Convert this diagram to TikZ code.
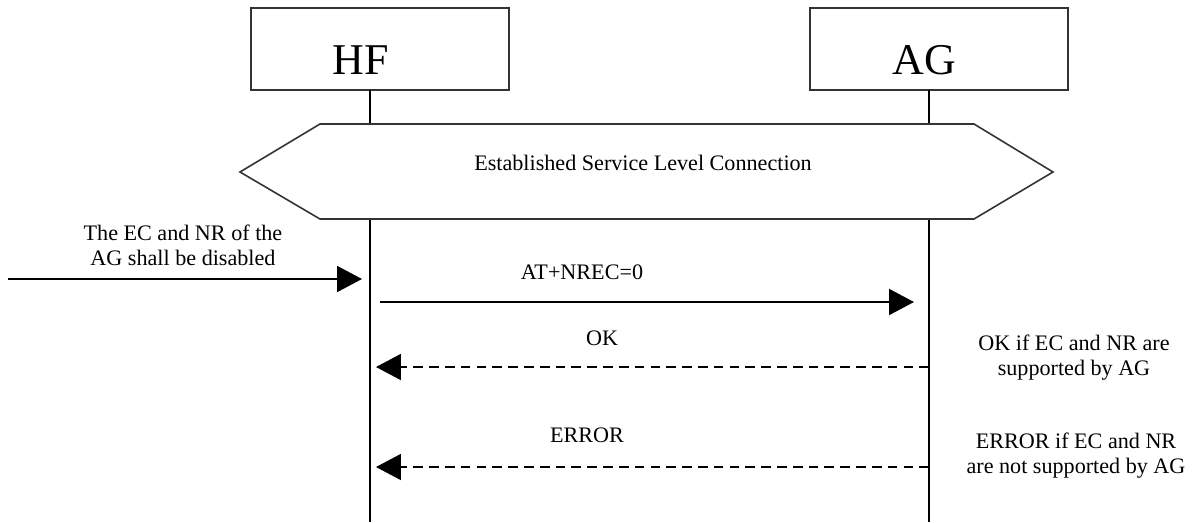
\documentclass[tikz,border=0pt]{standalone}
\usepackage{fontspec}
\setmainfont{Liberation Serif}
\usetikzlibrary{arrows.meta,positioning}

\begin{document}
\begin{tikzpicture}[x=0.02cm, y=-0.02cm, font=\fontsize{12.6}{14.2}\selectfont,
  entity/.style={draw=black!80, line width=1pt, minimum width=5.16cm, minimum height=1.64cm, inner sep=0pt},
  ename/.style={font=\fontsize{25}{28}\selectfont},
  life/.style={line width=1.1pt},
  msg/.style={line width=1.1pt, -{Triangle[length=0.5cm,width=0.52cm]}},
  reply/.style={msg, dash pattern=on 5.5pt off 3.5pt},
  note/.style={align=center}]
\useasboundingbox (0,0) rectangle (1193,522);
% entities
\node[entity, label={[ename, xshift=-0.38cm, yshift=-0.22cm]center:HF}] (hf) at (380,49) {};
\node[entity, label={[ename, xshift=-0.30cm, yshift=-0.22cm]center:AG}] (ag) at (939,49) {};
\coordinate (hftop) at (370,90);
\coordinate (agtop) at (929,90);
\coordinate (hfend) at (370,522);
\coordinate (agend) at (929,522);
\draw[life] (hftop) -- (hfend);
\draw[life] (agtop) -- (agend);
% service level connection
\draw[draw=black!80, line width=0.9pt, fill=white] (240,172) -- (320,124) -- (974,124) -- (1053,172) -- (974,219) -- (320,219) -- cycle;
\node (slc) at (643,163) {Established Service Level Connection};
% trigger
\coordinate (src) at (8,279);
\coordinate (hf0) at (370,279);
\node[note] (trig) at (183,245) {The EC and NR of the\\AG shall be disabled};
\draw[msg, shorten >=0.16cm] (src) -- (hf0);
% AT+NREC
\coordinate (hf1) at (370,302);
\coordinate (ag1) at (929,302);
\node (req) at (582,272) {AT+NREC=0};
\draw[msg, shorten <=0.2cm, shorten >=0.3cm] (hf1) -- (ag1);
% OK
\coordinate (hf2) at (370,367);
\coordinate (ag2) at (929,367);
\node (ok) at (602,338) {OK};
\draw[reply, shorten >=0.12cm] (ag2) -- (hf2);
\node[note] (okn) at (1074,358) {OK if EC and NR are\\supported by AG};
% ERROR
\coordinate (hf3) at (370,467);
\coordinate (ag3) at (929,467);
\node (err) at (587,435) {ERROR};
\draw[reply, shorten >=0.12cm] (ag3) -- (hf3);
\node[note] (errn) at (1076,456) {ERROR if EC and NR\\are not supported by AG};
\end{tikzpicture}
\end{document}
